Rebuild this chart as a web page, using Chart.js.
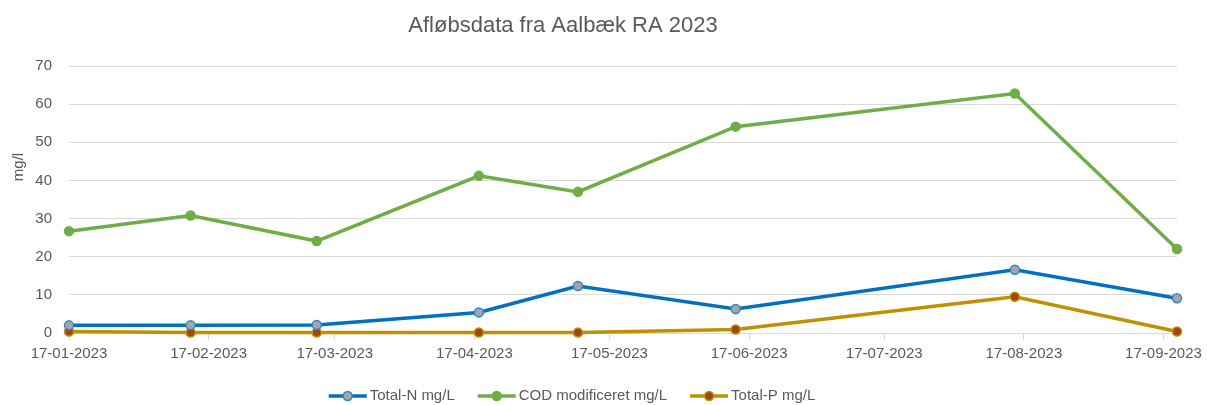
<!DOCTYPE html>
<html>
<head>
<meta charset="utf-8">
<script src="https://cdn.jsdelivr.net/npm/chart.js@4.4.1/dist/chart.umd.min.js"></script>
<style>
html,body{margin:0;padding:0;background:#fff;}
#wrap{width:1207px;height:405px;position:relative;}
</style>
</head>
<body>
<div id="wrap"><canvas id="c" width="1207" height="405"></canvas></div>
<script>
// ---- data ----
const chartTitle = 'Afløbsdata fra Aalbæk RA 2023';
const yAxisTitle = 'mg/l';
const sampleDates = ['2023-01-17','2023-02-13','2023-03-13','2023-04-18','2023-05-10','2023-06-14','2023-08-15','2023-09-20'];
const totalN = [2.0, 2.0, 2.1, 5.4, 12.3, 6.3, 16.6, 9.1];
const codMod = [26.7, 30.8, 24.1, 41.2, 37.0, 54.1, 62.8, 22.0];
const totalP = [0.4, 0.1, 0.1, 0.1, 0.1, 0.9, 9.5, 0.4];
const seriesNames = ['Total-N mg/L', 'COD modificeret mg/L', 'Total-P mg/L'];
const xTickLabels = ['17-01-2023','17-02-2023','17-03-2023','17-04-2023','17-05-2023','17-06-2023','17-07-2023','17-08-2023','17-09-2023'];
const yTicks = [0, 10, 20, 30, 40, 50, 60, 70];

// ---- helpers ----
const DAY = 86400000;
function isoToDay(s){ const p = s.split('-').map(Number); return Date.UTC(p[0], p[1]-1, p[2]) / DAY; }
function dmyToDay(s){ const p = s.split('-').map(Number); return Date.UTC(p[2], p[1]-1, p[0]) / DAY; }
const xs = sampleDates.map(isoToDay);
const xTickValues = xTickLabels.map(dmyToDay);
function pts(vals){ return vals.map((v,i)=>({x: xs[i], y: v})); }

const FONT = "'Liberation Sans', Arial, sans-serif";
const TXT = '#595959';

const styles = [
  {line:'#0070C0', fill:'#A5A5A5', border:'#2E86D0'},
  {line:'#70AD47', fill:'#70AD47', border:'#70AD47'},
  {line:'#BF9000', fill:'#A0460E', border:'#BF9000'}
];
const values = [totalN, codMod, totalP];

const datasets = values.map((vals, i) => ({
  label: seriesNames[i],
  data: pts(vals),
  borderColor: styles[i].line,
  backgroundColor: styles[i].fill,
  borderWidth: 3.5,
  pointRadius: 4.5,
  pointBorderWidth: 1.5,
  pointBackgroundColor: styles[i].fill,
  pointBorderColor: styles[i].border,
  tension: 0,
  clip: false
}));

const deco = {
  id: 'deco',
  afterDraw(chart){
    const ctx = chart.ctx;
    ctx.save();
    // title
    ctx.fillStyle = TXT;
    ctx.font = "22px " + FONT;
    ctx.textAlign = 'center';
    ctx.textBaseline = 'middle';
    ctx.fillText(chartTitle, 563, 26);
    // y-axis title
    ctx.font = "15px " + FONT;
    ctx.save();
    ctx.translate(19, 167);
    ctx.rotate(-Math.PI/2);
    ctx.fillText(yAxisTitle, 0, 0);
    ctx.restore();
    // legend
    ctx.font = "15px " + FONT;
    ctx.textAlign = 'left';
    const lineLen = 38, gapText = 3, gapItem = 23;
    const widths = seriesNames.map(n => ctx.measureText(n).width);
    let total = 0;
    widths.forEach((w,i)=>{ total += lineLen + gapText + w + (i < widths.length-1 ? gapItem : 0); });
    let x = 572 - total/2;
    const y = 396;
    seriesNames.forEach((n,i)=>{
      const s = styles[i];
      ctx.strokeStyle = s.line;
      ctx.lineWidth = 3.5;
      ctx.beginPath(); ctx.moveTo(x, y); ctx.lineTo(x+lineLen, y); ctx.stroke();
      ctx.beginPath(); ctx.arc(x+lineLen/2, y, 4.5, 0, Math.PI*2);
      ctx.fillStyle = s.fill; ctx.fill();
      ctx.lineWidth = 1.5; ctx.strokeStyle = s.border; ctx.stroke();
      ctx.fillStyle = TXT;
      ctx.fillText(n, x + lineLen + gapText, y);
      x += lineLen + gapText + widths[i] + gapItem;
    });
    ctx.restore();
  }
};

new Chart(document.getElementById('c'), {
  type: 'line',
  data: { datasets },
  options: {
    responsive: false,
    animation: false,
    layout: { padding: { top: 66, right: 30, left: 0, bottom: 0 } },
    plugins: { legend: { display: false }, title: { display: false }, tooltip: { enabled: false } },
    scales: {
      x: {
        type: 'linear',
        min: xs[0],
        max: xs[xs.length-1],
        afterBuildTicks(scale){ scale.ticks = xTickValues.map(v => ({value: v})); },
        afterFit(scale){ scale.height = 72; scale.paddingLeft = 0; scale.paddingRight = 0; },
        ticks: {
          autoSkip: false, maxRotation: 0, minRotation: 0,
          padding: 5,
          color: TXT,
          font: { family: FONT, size: 15 },
          callback: (v, i) => xTickLabels[i]
        },
        grid: { drawOnChartArea: false, drawTicks: true, tickLength: 7, color: '#D9D9D9', lineWidth: 1 },
        border: { display: true, color: '#D9D9D9', width: 1 }
      },
      y: {
        min: yTicks[0],
        max: yTicks[yTicks.length-1],
        afterBuildTicks(scale){ scale.ticks = yTicks.map(v => ({value: v})); },
        afterFit(scale){ scale.width = 69; },
        ticks: { padding: 17, color: TXT, font: { family: FONT, size: 15 } },
        grid: { drawTicks: false, color: '#D9D9D9', lineWidth: 1 },
        border: { display: false }
      }
    }
  },
  plugins: [deco]
});
</script>
</body>
</html>
